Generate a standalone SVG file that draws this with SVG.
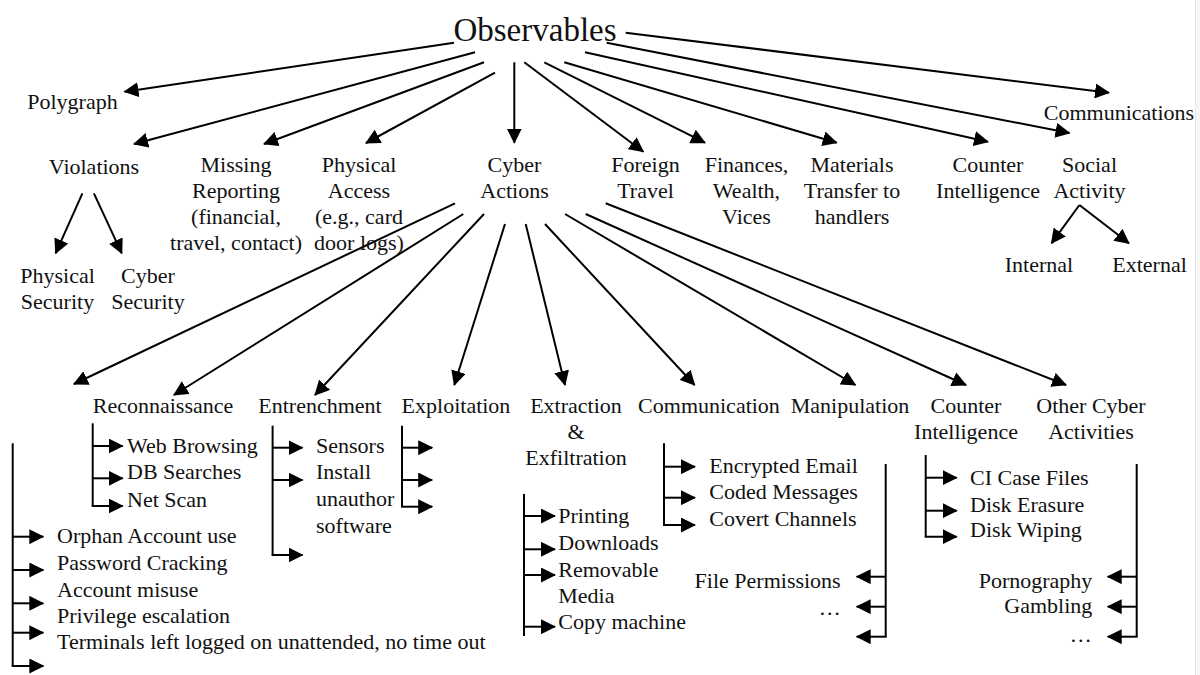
<svg xmlns="http://www.w3.org/2000/svg" width="1200" height="675" viewBox="0 0 1200 675">
<style>
.t{font-family:"Liberation Serif","Times New Roman",serif;font-size:22px;fill:#111;text-anchor:middle}
.s{text-anchor:start}
.e{text-anchor:end}
.c{stroke:#000;stroke-width:2;fill:none;marker-end:url(#ah)}
.b{stroke:#000;stroke-width:2;fill:none}
</style>
<defs>
<marker id="ah" markerUnits="userSpaceOnUse" markerWidth="15" markerHeight="15" viewBox="0 0 15 15" refX="14" refY="7.5" orient="auto">
<path d="M0,0 L15,7.5 L0,15 Z" fill="#000"/>
</marker>
</defs>
<rect width="1200" height="675" fill="#fff"/>
<rect x="1195" y="0" width="5" height="675" fill="#f7f7f7"/>
<line x1="1195.5" y1="0" x2="1195.5" y2="675" stroke="#e4e4e4" stroke-width="1"/>

<g id="connectors">
<!-- Observables fan -->
<line class="c" x1="454" y1="42.7" x2="124.5" y2="91.7"/>
<line class="c" x1="475" y1="52.3" x2="134" y2="144"/>
<line class="c" x1="484" y1="62.3" x2="264" y2="144"/>
<line class="c" x1="495" y1="72.7" x2="366" y2="143"/>
<line class="c" x1="514.3" y1="62.3" x2="514.3" y2="142.7"/>
<line class="c" x1="524.3" y1="62.3" x2="643.3" y2="151.7"/>
<line class="c" x1="544.3" y1="62.3" x2="705" y2="142.7"/>
<line class="c" x1="564.3" y1="62.3" x2="836.7" y2="142.7"/>
<line class="c" x1="585" y1="52.3" x2="988" y2="141.7"/>
<line class="c" x1="606.7" y1="42.7" x2="1069.5" y2="133"/>
<line class="c" x1="625.7" y1="32.7" x2="1109" y2="92.7"/>
<!-- Violations -->
<line class="c" x1="82.4" y1="193.3" x2="55.6" y2="253.3"/>
<line class="c" x1="93.9" y1="193.3" x2="121.8" y2="253.3"/>
<!-- Social Activity -->
<line class="c" x1="1079.4" y1="205" x2="1051.5" y2="243.3"/>
<line class="c" x1="1079.4" y1="205" x2="1129" y2="243.3"/>
<!-- Cyber Actions fan -->
<line class="c" x1="455" y1="203.3" x2="73.9" y2="384"/>
<line class="c" x1="463.3" y1="214" x2="173.9" y2="395"/>
<line class="c" x1="484" y1="214" x2="315" y2="395"/>
<line class="c" x1="505" y1="224" x2="454.3" y2="385"/>
<line class="c" x1="525.7" y1="224" x2="565" y2="385"/>
<line class="c" x1="545" y1="224" x2="694.6" y2="385"/>
<line class="c" x1="565" y1="214" x2="855.4" y2="385"/>
<line class="c" x1="585.7" y1="214" x2="966" y2="385"/>
<line class="c" x1="605.7" y1="203.3" x2="1066" y2="385"/>
<!-- Left bracket -->
<path class="b" d="M12.7,443.3 V666"/>
<line class="c" x1="12.7" y1="536.7" x2="43.3" y2="536.7"/>
<line class="c" x1="12.7" y1="570" x2="43.3" y2="570"/>
<line class="c" x1="12.7" y1="603.3" x2="43.3" y2="603.3"/>
<line class="c" x1="12.7" y1="632.7" x2="43.3" y2="632.7"/>
<line class="c" x1="11.7" y1="666" x2="43.3" y2="666"/>
<!-- Reconnaissance bracket -->
<path class="b" d="M92.7,423.3 V506"/>
<line class="c" x1="92.7" y1="446" x2="122.7" y2="446"/>
<line class="c" x1="92.7" y1="478.3" x2="122.7" y2="478.3"/>
<line class="c" x1="91.7" y1="506" x2="122.7" y2="506"/>
<!-- Entrenchment bracket -->
<path class="b" d="M272.6,425.7 V555"/>
<line class="c" x1="272.6" y1="447.7" x2="302.5" y2="447.7"/>
<line class="c" x1="272.6" y1="480" x2="302.5" y2="480"/>
<line class="c" x1="271.6" y1="555" x2="302.5" y2="555"/>
<!-- Exploitation bracket -->
<path class="b" d="M402,425.7 V506.7"/>
<line class="c" x1="402" y1="447.7" x2="432.2" y2="447.7"/>
<line class="c" x1="402" y1="480" x2="432.2" y2="480"/>
<line class="c" x1="401" y1="506.7" x2="432.2" y2="506.7"/>
<!-- Extraction bracket -->
<path class="b" d="M524,494 V636"/>
<line class="c" x1="524" y1="516" x2="555" y2="516"/>
<line class="c" x1="524" y1="549.3" x2="555" y2="549.3"/>
<line class="c" x1="524" y1="575" x2="555" y2="575"/>
<line class="c" x1="524" y1="626.7" x2="555" y2="626.7"/>
<!-- Communication bracket -->
<path class="b" d="M664,443.3 V525"/>
<line class="c" x1="664" y1="466.7" x2="695" y2="466.7"/>
<line class="c" x1="664" y1="497.7" x2="695" y2="497.7"/>
<line class="c" x1="663" y1="525" x2="695" y2="525"/>
<!-- Manipulation bracket -->
<path class="b" d="M885.7,464 V636.7"/>
<line class="c" x1="885.7" y1="576.7" x2="856.7" y2="576.7"/>
<line class="c" x1="885.7" y1="606.7" x2="856.7" y2="606.7"/>
<line class="c" x1="886.7" y1="636.7" x2="856.7" y2="636.7"/>
<!-- Counter Intelligence bracket -->
<path class="b" d="M925.7,455 V536.7"/>
<line class="c" x1="925.7" y1="477.7" x2="956.7" y2="477.7"/>
<line class="c" x1="925.7" y1="510.7" x2="956.7" y2="510.7"/>
<line class="c" x1="924.7" y1="536.7" x2="956.7" y2="536.7"/>
<!-- Other Cyber bracket -->
<path class="b" d="M1136.7,464 V636.7"/>
<line class="c" x1="1136.7" y1="576.7" x2="1107.7" y2="576.7"/>
<line class="c" x1="1136.7" y1="606.7" x2="1107.7" y2="606.7"/>
<line class="c" x1="1137.7" y1="636.7" x2="1107.7" y2="636.7"/>
</g>

<g id="observables"><text class="t" x="535" y="41" style="font-size:33px">Observables</text></g>
<g id="polygraph"><text class="t" x="72.5" y="109">Polygraph</text></g>
<g id="violations"><text class="t" x="94" y="174">Violations</text></g>
<g id="physical-security"><text class="t" x="57.5" y="282.5">Physical</text><text class="t" x="57.5" y="308.5">Security</text></g>
<g id="cyber-security"><text class="t" x="148" y="282.5">Cyber</text><text class="t" x="148" y="308.5">Security</text></g>
<g id="missing-reporting"><text class="t" x="236" y="172">Missing</text><text class="t" x="236" y="198">Reporting</text><text class="t" x="236" y="224">(financial,</text><text class="t" x="236" y="250">travel, contact)</text></g>
<g id="physical-access"><text class="t" x="359" y="172">Physical</text><text class="t" x="359" y="198">Access</text><text class="t" x="359" y="224">(e.g., card</text><text class="t" x="359" y="250">door logs)</text></g>
<g id="cyber-actions"><text class="t" x="514.5" y="172">Cyber</text><text class="t" x="514.5" y="198">Actions</text></g>
<g id="foreign-travel"><text class="t" x="645.5" y="172">Foreign</text><text class="t" x="645.5" y="198">Travel</text></g>
<g id="finances"><text class="t" x="746.5" y="172">Finances,</text><text class="t" x="746.5" y="198">Wealth,</text><text class="t" x="746.5" y="224">Vices</text></g>
<g id="materials"><text class="t" x="852" y="172">Materials</text><text class="t" x="852" y="198">Transfer to</text><text class="t" x="852" y="224">handlers</text></g>
<g id="counter-intelligence"><text class="t" x="988" y="172">Counter</text><text class="t" x="988" y="198">Intelligence</text></g>
<g id="social-activity"><text class="t" x="1089.5" y="172">Social</text><text class="t" x="1089.5" y="198">Activity</text></g>
<g id="communications"><text class="t" x="1119" y="120">Communications</text></g>
<g id="internal"><text class="t" x="1039" y="272">Internal</text></g>
<g id="external"><text class="t" x="1149.5" y="272">External</text></g>

<g id="reconnaissance"><text class="t" x="163" y="413">Reconnaissance</text>
<text class="t s" x="127" y="452.7">Web Browsing</text><text class="t s" x="127" y="479.3">DB Searches</text><text class="t s" x="127" y="506.5">Net Scan</text></g>
<g id="entrenchment"><text class="t" x="320" y="413">Entrenchment</text>
<text class="t s" x="316" y="452.7">Sensors</text><text class="t s" x="316" y="479.3">Install</text><text class="t s" x="316" y="506">unauthor</text><text class="t s" x="316" y="532.7">software</text></g>
<g id="exploitation"><text class="t" x="456" y="413">Exploitation</text></g>
<g id="account-misuse"><text class="t s" x="57" y="543.3">Orphan Account use</text><text class="t s" x="57" y="570">Password Cracking</text><text class="t s" x="57" y="596.7">Account misuse</text><text class="t s" x="57" y="622.7">Privilege escalation</text><text class="t s" x="57" y="649.3">Terminals left logged on unattended, no time out</text></g>
<g id="extraction"><text class="t" x="576" y="413">Extraction</text><text class="t" x="576" y="439">&amp;</text><text class="t" x="576" y="465">Exfiltration</text>
<text class="t s" x="558.3" y="523.3">Printing</text><text class="t s" x="558.3" y="550">Downloads</text><text class="t s" x="558.3" y="576.7">Removable</text><text class="t s" x="558.3" y="602.7">Media</text><text class="t s" x="558.3" y="629.3">Copy machine</text></g>
<g id="communication"><text class="t" x="709" y="413">Communication</text>
<text class="t s" x="709.3" y="473.3">Encrypted Email</text><text class="t s" x="709.3" y="499">Coded Messages</text><text class="t s" x="709.3" y="525.7">Covert Channels</text></g>
<g id="manipulation"><text class="t" x="850" y="413">Manipulation</text>
<text class="t e" x="840.7" y="588.3">File Permissions</text><text class="t e" x="840.7" y="615">…</text></g>
<g id="cyber-counter-intelligence"><text class="t" x="966" y="413">Counter</text><text class="t" x="966" y="439">Intelligence</text>
<text class="t s" x="970" y="485">CI Case Files</text><text class="t s" x="970" y="512">Disk Erasure</text><text class="t s" x="970" y="537">Disk Wiping</text></g>
<g id="other-cyber"><text class="t" x="1091" y="413">Other Cyber</text><text class="t" x="1091" y="439">Activities</text>
<text class="t e" x="1092.3" y="588.3">Pornography</text><text class="t e" x="1092.3" y="613.3">Gambling</text><text class="t e" x="1091.7" y="641.7">…</text></g>
</svg>
